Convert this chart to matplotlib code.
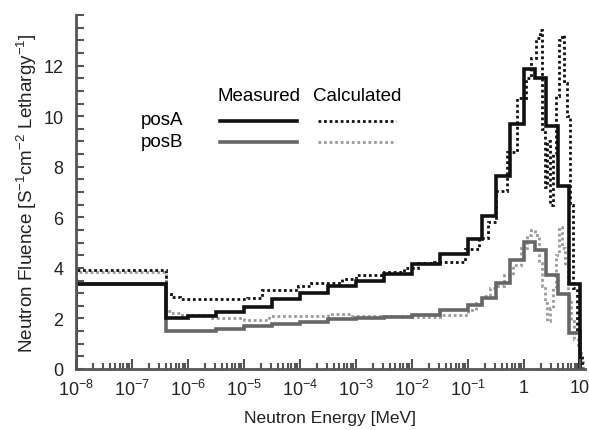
import matplotlib

matplotlib.use("Agg")
import matplotlib.pyplot as plt
import numpy as np
from matplotlib.ticker import FixedLocator, LogLocator, NullFormatter, FixedFormatter

plt.rcParams["font.family"] = ["Liberation Sans", "DejaVu Sans"]
plt.rcParams["mathtext.fontset"] = "custom"
plt.rcParams["mathtext.rm"] = "Liberation Sans"
plt.rcParams["mathtext.default"] = "regular"

# --- данные: границы групп (log10 E, МэВ) и флюенс на летаргию ---
meas_edges_log = [-8, -6.39, -6, -5.5, -5, -4.5, -4, -3.5, -3, -2.5, -2, -1.5, -1,
                  -0.75, -0.5, -0.25, 0, 0.2, 0.4, 0.6, 0.8, 1.0]
meas_posA = [3.35, 2.0, 2.1, 2.25, 2.45, 2.75, 3.0, 3.3, 3.5, 3.75, 4.15, 4.55, 5.15,
             6.05, 7.65, 9.7, 11.85, 11.5, 9.6, 7.25, 3.35]
meas_posB = [3.35, 1.5, 1.5, 1.6, 1.7, 1.78, 1.85, 1.98, 2.02, 2.05, 2.15, 2.35, 2.55,
             2.8, 3.4, 4.3, 5.03, 4.72, 3.73, 2.98, 1.43]

calcA_edges_log = [-8, -6.39, -6.3, -6.15, -5.5, -4.95, -4.68, -4.04, -3.8, -3.25, -3.0,
                   -2.5, -2.15, -1.9, -1.6, -1.05, -0.8, -0.65, -0.5, -0.3, -0.12, 0.04,
                   0.12, 0.21, 0.29, 0.33, 0.37, 0.42, 0.47, 0.52, 0.57, 0.62, 0.68, 0.72,
                   0.77, 0.83, 0.88, 0.94, 1.0, 1.04]
calc_posA = [3.92, 2.95, 2.85, 2.78, 2.75, 2.8, 3.12, 3.27, 3.4, 3.55, 3.7, 3.85, 4.0,
             4.2, 4.25, 4.75, 5.2, 5.8, 7.05, 8.6, 10.7, 11.5, 12.3, 13.1, 13.4, 9.5,
             7.2, 9.0, 6.5, 8.5, 10.8, 13.0, 13.2, 11.3, 10.0, 6.5, 3.2, 1.5, 0.6]

calcB_edges_log = [-8, -6.39, -6.3, -6.1, -5.6, -5.0, -4.55, -3.5, -3.1, -2.0, -1.5, -1.0,
                   -0.85, -0.75, -0.6, -0.5, -0.35, -0.2, -0.05, 0.05, 0.12, 0.2, 0.27,
                   0.32, 0.38, 0.42, 0.47, 0.52, 0.57, 0.62, 0.68, 0.73, 0.79, 0.84, 0.9,
                   0.96, 1.02, 1.06]
calc_posB = [3.82, 2.3, 2.2, 2.15, 2.0, 1.95, 2.1, 2.18, 2.1, 2.05, 2.15, 2.35, 2.6, 2.9,
             3.2, 3.3, 3.7, 4.1, 4.8, 5.3, 5.5, 5.3, 4.2, 3.3, 2.6, 1.9, 2.4, 3.2, 4.5,
             5.6, 4.8, 4.1, 2.8, 1.9, 1.2, 0.8, 0.4]

xtick_vals = [1e-8, 1e-7, 1e-6, 1e-5, 1e-4, 1e-3, 1e-2, 1e-1, 1, 10]
xtick_labels = ["10$^{-8}$", "10$^{-7}$", "10$^{-6}$", "10$^{-5}$", "10$^{-4}$",
                "10$^{-3}$", "10$^{-2}$", "10$^{-1}$", "1", "10"]
ytick_vals = [0, 2, 4, 6, 8, 10, 12]

BLACK = "#111111"
GRAY = "#666666"
LGRAY = "#9a9a9a"
AXC = "#555555"

fig = plt.figure(figsize=(5.89, 4.31), dpi=100)
ax = fig.add_axes([76 / 589, 61 / 431, 509 / 589, 354 / 431])

dot = (0, (1, 1))
ax.stairs(calc_posB, 10 ** np.array(calcB_edges_log), baseline=0, color=LGRAY,
          lw=2.0, ls=dot)
ax.stairs(calc_posA, 10 ** np.array(calcA_edges_log), baseline=0, color=BLACK,
          lw=2.0, ls=dot)
ax.stairs(meas_posB, 10 ** np.array(meas_edges_log), baseline=0, color=GRAY, lw=2.6)
ax.stairs(meas_posA, 10 ** np.array(meas_edges_log), baseline=0, color=BLACK, lw=2.6)

ax.set_xscale("log")
ax.set_xlim(1e-8, 10 ** 1.09)
ax.set_ylim(0, 14)

ax.xaxis.set_major_locator(FixedLocator(xtick_vals))
ax.xaxis.set_major_formatter(FixedFormatter(xtick_labels))
ax.xaxis.set_minor_locator(LogLocator(base=10, subs=np.arange(2, 10), numticks=20))
ax.xaxis.set_minor_formatter(NullFormatter())
ax.yaxis.set_major_locator(FixedLocator(ytick_vals))
ax.yaxis.set_minor_locator(FixedLocator(np.arange(0, 14.01, 0.5)))

ax.tick_params(axis="both", which="both", direction="in", colors=AXC, labelcolor="#222222",
               labelsize=13, width=1.5)
ax.tick_params(axis="x", which="major", length=7, pad=7)
ax.tick_params(axis="x", which="minor", length=4)
ax.tick_params(axis="y", which="both", length=6, pad=9)

for s in ("top", "right"):
    ax.spines[s].set_visible(False)
for s in ("left", "bottom"):
    ax.spines[s].set_color(AXC)
    ax.spines[s].set_linewidth(2)

ax.set_xlabel("Neutron Energy [MeV]", fontsize=12.5, color="#222222", labelpad=8)
ax.set_ylabel("Neutron Fluence [S$^{-1}$cm$^{-2}$ Lethargy$^{-1}$]", fontsize=13.6,
              color="#222222", labelpad=3)

# легенда вручную
tr = ax.transAxes
ax.text(0.36, 0.774, "Measured", transform=tr, ha="center", va="center", fontsize=13.5)
ax.text(0.552, 0.774, "Calculated", transform=tr, ha="center", va="center", fontsize=13.5)
ax.text(0.128, 0.706, "posA", transform=tr, ha="left", va="center", fontsize=13.5)
ax.text(0.128, 0.644, "posB", transform=tr, ha="left", va="center", fontsize=13.5)
ax.plot([0.283, 0.434], [0.701, 0.701], transform=tr, color=BLACK, lw=2.6)
ax.plot([0.283, 0.434], [0.642, 0.642], transform=tr, color=GRAY, lw=2.6)
ax.plot([0.476, 0.628], [0.701, 0.701], transform=tr, color=BLACK, lw=2.0, ls=dot)
ax.plot([0.476, 0.628], [0.642, 0.642], transform=tr, color=LGRAY, lw=2.0, ls=dot)

fig.savefig("out.png", dpi=100)
